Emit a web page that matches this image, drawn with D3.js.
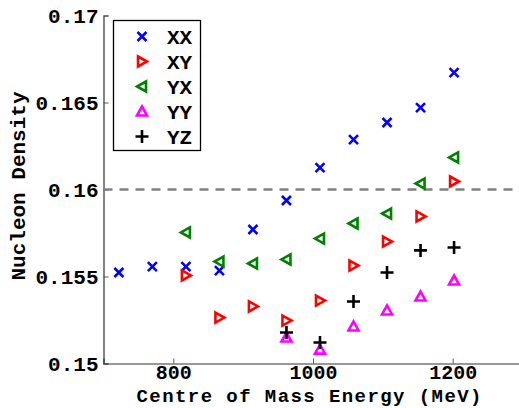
<!DOCTYPE html>
<html><head><meta charset="utf-8">
<script src="https://cdn.jsdelivr.net/npm/d3@7"></script>
<style>
body{margin:0;background:#fff;}
text{font-family:"Liberation Mono","Courier New",monospace;font-weight:bold;}
</style></head>
<body><svg id="c" width="519" height="408"></svg>
<script>
const energies = [722, 770, 818, 866, 914, 962, 1010, 1058, 1106, 1154, 1202];
const xxValues = [0.15523, 0.15557, 0.15557, 0.15534, 0.1577, 0.15937, 0.16126, 0.16287, 0.16385, 0.16471, 0.16672];
const xyEnergies = [818, 866, 914, 962, 1010, 1058, 1106, 1154, 1202];
const xyValues = [0.15506, 0.15264, 0.15328, 0.15247, 0.15362, 0.15563, 0.15701, 0.15845, 0.16046];
const yxEnergies = [818, 866, 914, 962, 1010, 1058, 1106, 1154, 1202];
const yxValues = [0.15753, 0.15586, 0.15575, 0.15598, 0.15718, 0.15805, 0.15862, 0.16034, 0.16184];
const yyEnergies = [962, 1010, 1058, 1106, 1154, 1202];
const yyValues = [0.15149, 0.1508, 0.15213, 0.15305, 0.15385, 0.15477];
const yzEnergies = [962, 1010, 1058, 1106, 1154, 1202];
const yzValues = [0.15178, 0.15121, 0.15356, 0.15523, 0.1565, 0.15667];
const seriesNames = ["XX", "XY", "YX", "YY", "YZ"];
const xTicks = [800, 1000, 1200];
const yTicks = [0.15, 0.155, 0.16, 0.165, 0.17];
const refLine = 0.16;

const svg = d3.select("#c");
const x = d3.scaleLinear().domain([700, 1300]).range([103.5, 522.5]);
const y = d3.scaleLinear().domain([0.15, 0.17]).range([363.5, 15.5]);

// axes
const gx = svg.append("g").attr("transform","translate(0,363.5)")
  .call(d3.axisBottom(x).tickValues(xTicks).tickSize(-5).tickPadding(1).tickFormat(d3.format("d")));
const gy = svg.append("g").attr("transform","translate(103.5,0)")
  .call(d3.axisLeft(y).tickValues(yTicks).tickSize(-5).tickPadding(5).tickFormat(d=>String(+d.toFixed(3))));
[gx,gy].forEach(g=>{
  g.select(".domain").attr("stroke","#333").attr("stroke-width",1.2);
  g.selectAll(".tick line").attr("stroke","#555");
  g.selectAll(".tick text").attr("fill","#000").style("font-size","21px")
   .style("font-family","'Liberation Mono',monospace").style("font-weight","bold");
});
gy.selectAll(".tick text").attr("dy","0.35em");
gx.selectAll(".tick text").style("font-size","20px").attr("dy","0.71em");

// reference line
svg.append("line").attr("x1",x(700)).attr("x2",519).attr("y1",y(refLine)).attr("y2",y(refLine))
  .attr("stroke","#808080").attr("stroke-width",2.6).attr("stroke-dasharray","9,7");

// markers
function marker(g, type, color){
  const sw = 2.6;
  if(type==="x"){
    g.append("path").attr("d","M-4.5,-4.5L4.5,4.5M-4.5,4.5L4.5,-4.5").attr("stroke",color).attr("stroke-width",sw).attr("fill","none");
  } else if(type==="right"){
    g.append("path").attr("d","M-4,-5L5,0L-4,5Z").attr("stroke",color).attr("stroke-width",sw).attr("fill","none");
  } else if(type==="left"){
    g.append("path").attr("d","M4,-5L-5,0L4,5Z").attr("stroke",color).attr("stroke-width",sw).attr("fill","none");
  } else if(type==="up"){
    g.append("path").attr("d","M0,-5L5,4L-5,4Z").attr("stroke",color).attr("stroke-width",sw).attr("fill","none");
  } else if(type==="plus"){
    g.append("path").attr("d","M-6.5,0L6.5,0M0,-6.5L0,6.5").attr("stroke",color).attr("stroke-width",sw).attr("fill","none");
  }
}
const series = [
  {name:seriesNames[0], xs:energies, ys:xxValues, type:"x", color:"#0000ff"},
  {name:seriesNames[1], xs:xyEnergies, ys:xyValues, type:"right", color:"#ff0000"},
  {name:seriesNames[2], xs:yxEnergies, ys:yxValues, type:"left", color:"#008000"},
  {name:seriesNames[3], xs:yyEnergies, ys:yyValues, type:"up", color:"#ff00ff"},
  {name:seriesNames[4], xs:yzEnergies, ys:yzValues, type:"plus", color:"#000000"}
];
series.forEach(s=>{
  s.xs.forEach((e,i)=>{
    const g = svg.append("g").attr("transform",`translate(${x(e)},${y(s.ys[i])})`);
    marker(g, s.type, s.color);
  });
});

// legend
const lg = svg.append("g");
lg.append("rect").attr("x",113.5).attr("y",20.5).attr("width",87).attr("height",130)
  .attr("fill","#fff").attr("stroke","#000").attr("stroke-width",1.3);
series.forEach((s,i)=>{
  const cy = 36.5 + i*25;
  const g = lg.append("g").attr("transform",`translate(142,${cy})`);
  marker(g, s.type, s.color);
  lg.append("text").attr("x",167).attr("y",cy).attr("dy","0.35em").style("font-size","21px").text(s.name);
});

// axis labels
svg.append("text").attr("x",309).attr("y",401.5).attr("text-anchor","middle").style("font-size","19px")
  .attr("textLength",345).attr("lengthAdjust","spacing")
  .text("Centre of Mass Energy (MeV)");
svg.append("text").attr("transform","translate(25,186) rotate(-90)").attr("text-anchor","middle").style("font-size","21px")
  .text("Nucleon Density");
</script></body></html>
